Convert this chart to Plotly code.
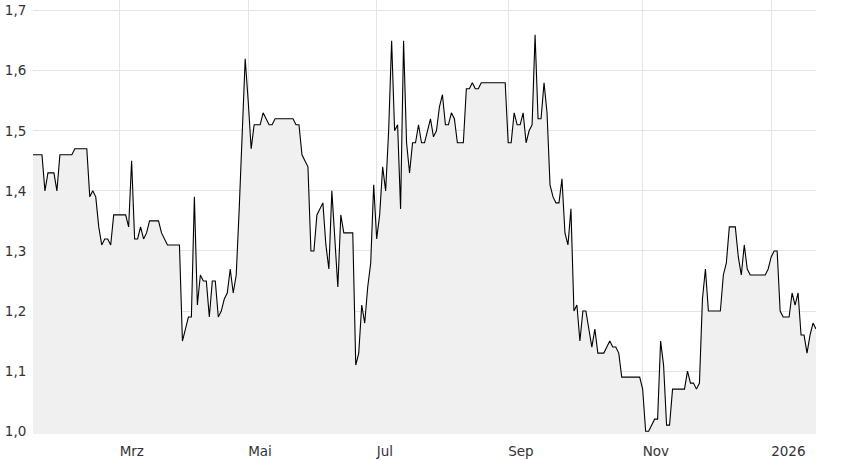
import pandas as pd
import plotly.graph_objects as go

# ---- data ----
start_date = "2025-01-21"
end_date = "2026-01-22"

prices = [
    1.46, 1.46, 1.46, 1.46, 1.40, 1.43, 1.43, 1.43, 1.40, 1.46,
    1.46, 1.46, 1.46, 1.46, 1.47, 1.47, 1.47, 1.47, 1.47, 1.39,
    1.40, 1.39, 1.34, 1.31, 1.32, 1.32, 1.31, 1.36, 1.36, 1.36,
    1.36, 1.36, 1.34, 1.45, 1.32, 1.32, 1.34, 1.32, 1.33, 1.35,
    1.35, 1.35, 1.35, 1.33, 1.32, 1.31, 1.31, 1.31, 1.31, 1.31,
    1.15, 1.17, 1.19, 1.19, 1.39, 1.21, 1.26, 1.25, 1.25, 1.19,
    1.25, 1.25, 1.19, 1.20, 1.22, 1.23, 1.27, 1.23, 1.26, 1.37,
    1.50, 1.62, 1.55, 1.47, 1.51, 1.51, 1.51, 1.53, 1.52, 1.51,
    1.51, 1.52, 1.52, 1.52, 1.52, 1.52, 1.52, 1.52, 1.51, 1.51,
    1.46, 1.45, 1.44, 1.30, 1.30, 1.36, 1.37, 1.38, 1.31, 1.27,
    1.40, 1.32, 1.24, 1.36, 1.33, 1.33, 1.33, 1.33, 1.11, 1.13,
    1.21, 1.18, 1.24, 1.28, 1.41, 1.32, 1.36, 1.44, 1.40, 1.50,
    1.65, 1.50, 1.51, 1.37, 1.65, 1.48, 1.43, 1.48, 1.48, 1.51,
    1.48, 1.48, 1.50, 1.52, 1.49, 1.50, 1.54, 1.56, 1.51, 1.51,
    1.53, 1.52, 1.48, 1.48, 1.48, 1.57, 1.57, 1.58, 1.57, 1.57,
    1.58, 1.58, 1.58, 1.58, 1.58, 1.58, 1.58, 1.58, 1.58, 1.48,
    1.48, 1.53, 1.51, 1.51, 1.53, 1.48, 1.50, 1.51, 1.66, 1.52,
    1.52, 1.58, 1.53, 1.41, 1.39, 1.38, 1.38, 1.42, 1.33, 1.31,
    1.37, 1.20, 1.21, 1.15, 1.20, 1.20, 1.17, 1.14, 1.17, 1.13,
    1.13, 1.13, 1.14, 1.15, 1.14, 1.14, 1.13, 1.09, 1.09, 1.09,
    1.09, 1.09, 1.09, 1.09, 1.07, 1.00, 1.00, 1.01, 1.02, 1.02,
    1.15, 1.11, 1.01, 1.01, 1.07, 1.07, 1.07, 1.07, 1.07, 1.10,
    1.08, 1.08, 1.07, 1.08, 1.22, 1.27, 1.20, 1.20, 1.20, 1.20,
    1.20, 1.26, 1.28, 1.34, 1.34, 1.34, 1.29, 1.26, 1.31, 1.27,
    1.26, 1.26, 1.26, 1.26, 1.26, 1.26, 1.27, 1.29, 1.30, 1.30,
    1.20, 1.19, 1.19, 1.19, 1.23, 1.21, 1.23, 1.16, 1.16, 1.13,
    1.16, 1.18, 1.17,
]

tick_dates = ["2025-03-03", "2025-05-01", "2025-07-01", "2025-09-01", "2025-11-03", "2026-01-01"]
tick_labels = ["Mrz", "Mai", "Jul", "Sep", "Nov", "2026"]
y_ticks = [1.0, 1.1, 1.2, 1.3, 1.4, 1.5, 1.6, 1.7]

dates = pd.bdate_range(start_date, end_date)
n = min(len(dates), len(prices))
dates = dates[:n]
values = prices[:n]

fig = go.Figure()
fig.add_trace(go.Scatter(
    x=dates, y=values, mode="lines",
    line=dict(color="#000000", width=1.1),
    fill="tozeroy", fillcolor="#f0f0f0",
    hoverinfo="skip", showlegend=False,
))

font = dict(family="DejaVu Sans, Verdana, sans-serif", size=13.5, color="#333333")

fig.update_layout(
    width=848, height=460,
    margin=dict(l=33, r=32, t=0, b=26, autoexpand=False),
    paper_bgcolor="white", plot_bgcolor="white",
    separators=",.",
    font=font,
    showlegend=False,
)
fig.update_xaxes(
    type="date",
    automargin=False,
    range=[dates[0], dates[-1]],
    rangebreaks=[dict(bounds=["sat", "mon"])],
    tickvals=tick_dates, ticktext=tick_labels,
    ticklabelposition="outside right",
    ticklabelstandoff=7,
    ticks="",
    showgrid=True, gridcolor="#e4e4e4", gridwidth=1,
    zeroline=False, showline=False,
    tickfont=font,
)
fig.update_yaxes(
    automargin=False,
    range=[0.9953, 1.7177],
    tickvals=y_ticks, tickformat=".1f",
    ticks="outside", ticklen=3, tickcolor="rgba(0,0,0,0)",
    showgrid=True, gridcolor="#e4e4e4", gridwidth=1,
    zeroline=False, showline=False,
    tickfont=font,
)

fig.write_html(
    "out.html",
    config={"displayModeBar": False, "staticPlot": True},
    post_script="document.body.style.margin='0';document.body.style.overflow='hidden';",
)
